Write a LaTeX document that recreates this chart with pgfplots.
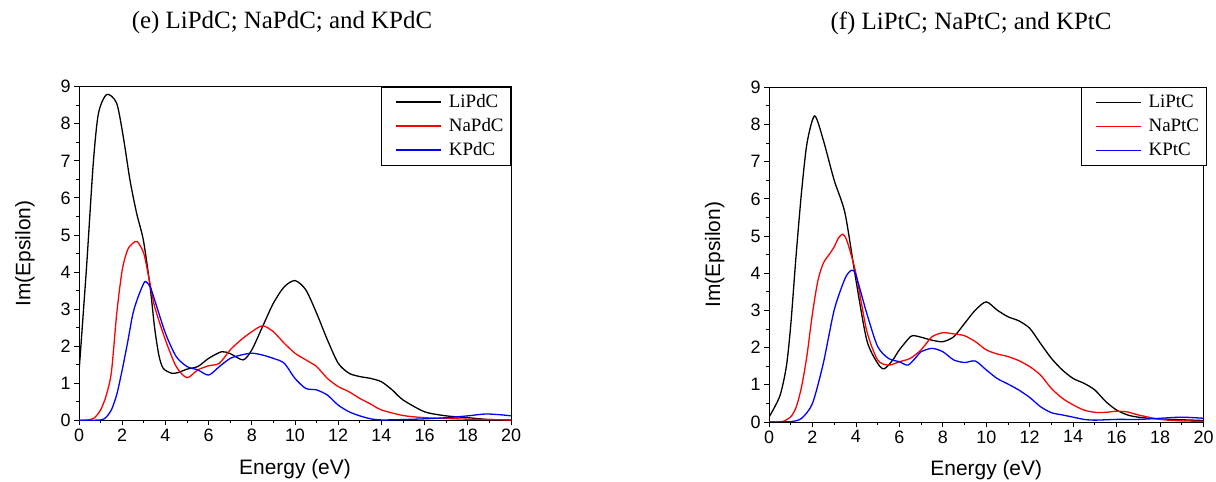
\documentclass[border=0pt]{standalone}
\usepackage{fontspec}
\setmainfont{Liberation Serif}
\setsansfont{Liberation Sans}
\usepackage{pgfplots}
\pgfplotsset{compat=1.18}
\pgfplotsset{
  myax/.style={
    scale only axis,
    xmin=0, xmax=20, ymin=0, ymax=9,
    xtick={0,2,...,20}, ytick={0,1,...,9},
    minor x tick num=1, minor y tick num=1,
    tick pos=left, tick align=outside,
    major tick length=5bp, minor tick length=3bp,
    axis line style={line width=0.9bp},
    every tick/.style={black, line width=0.8bp},
    /pgf/number format/assume math mode=true,
    ticklabel style={font=\sffamily\fontsize{18}{18}\selectfont},
    xlabel={Energy (eV)}, ylabel={Im(Epsilon)},
    every axis x label/.style={at={(axis description cs:0.5,-0.145)}, anchor=center, font=\sffamily\fontsize{21}{21}\selectfont},
    every axis y label/.style={at={(axis description cs:-0.125,0.5)}, rotate=90, anchor=center, font=\sffamily\fontsize{21}{21}\selectfont},
    legend cell align=left,
    legend style={at={(1,1)}, anchor=north east, draw=black, line width=0.8bp,
      font=\fontsize{19}{19}\selectfont,
      nodes={inner sep=1bp, text height=14bp, text depth=4bp},
      row sep=4bp, inner xsep=6bp, inner ysep=5bp},
    legend image code/.code={\path (-8bp,0bp) (51bp,0bp); \draw[#1, line width=1.3bp] (0bp,0bp) -- (45bp,0bp);},
    every axis plot/.append style={line width=1.3bp, smooth, tension=0.45},
  }
}
\begin{document}
\begin{tikzpicture}
\path[use as bounding box] (0,0) rectangle (1216bp,482bp);
\node[font=\fontsize{25}{25}\selectfont] at (282bp,459bp) {(e) LiPdC; NaPdC; and KPdC};
\node[font=\fontsize{25}{25}\selectfont] at (971bp,459bp) {(f) LiPtC; NaPtC; and KPtC};
\begin{axis}[myax, at={(79bp,61.7bp)}, anchor=south west, width=432bp, height=333.6bp]
\addplot[black] coordinates {
(0,1.30)(0.35,4.14)(0.66,6.93)(0.9,8.28)(1.28,8.79)(1.74,8.56)(2.05,7.65)(2.36,6.48)(2.67,5.58)(2.98,4.86)(3.29,3.61)(3.5,2.5)(3.7,1.75)(3.9,1.4)(4.29,1.27)(4.6,1.29)(5,1.38)(5.5,1.45)(6,1.67)(6.6,1.85)(7,1.8)(7.6,1.63)(8,1.9)(8.5,2.53)(9,3.16)(9.5,3.6)(10,3.77)(10.5,3.52)(11,2.89)(11.5,2.17)(12,1.54)(12.5,1.27)(13,1.18)(13.5,1.13)(14,1.04)(14.5,0.82)(15,0.55)(16,0.23)(17,0.12)(18,0.07)(19,0.02)(20,0.01)};
\addlegendentry{LiPdC}
\addplot[red] coordinates {
(0,0)(0.4,0.01)(0.7,0.06)(1,0.28)(1.25,0.65)(1.5,1.3)(1.75,2.9)(2,4.05)(2.25,4.6)(2.5,4.78)(2.7,4.82)(3,4.5)(3.25,3.8)(3.5,3.07)(4,2.17)(4.5,1.45)(5,1.15)(5.5,1.36)(6,1.47)(6.5,1.54)(7,1.9)(7.5,2.17)(8,2.39)(8.5,2.55)(9,2.39)(9.5,2.08)(10,1.81)(10.5,1.63)(11,1.45)(11.5,1.13)(12,0.91)(12.5,0.77)(13,0.59)(13.5,0.44)(14,0.28)(15,0.13)(16,0.07)(17,0.05)(18,0.03)(20,0.01)};
\addlegendentry{NaPdC}
\addplot[blue] coordinates {
(0,0)(1,0.01)(1.25,0.08)(1.5,0.28)(1.75,0.7)(2,1.36)(2.25,2.1)(2.5,2.89)(2.75,3.35)(3,3.7)(3.1,3.74)(3.3,3.6)(3.5,3.25)(4,2.35)(4.5,1.72)(5,1.45)(5.5,1.36)(6,1.22)(6.5,1.45)(7,1.67)(7.5,1.76)(8,1.81)(8.5,1.76)(9,1.67)(9.5,1.54)(10,1.13)(10.5,0.86)(11,0.82)(11.5,0.68)(12,0.41)(12.5,0.23)(13,0.12)(13.5,0.04)(14,0.01)(15,0.02)(16,0.04)(17,0.07)(18,0.12)(18.8,0.17)(19.5,0.15)(20,0.12)};
\addlegendentry{KPdC}
\end{axis}
\begin{axis}[myax, at={(769bp,60bp)}, anchor=south west, width=434.5bp, height=334.7bp,
  legend style={at={(1,1)}, anchor=north east, xshift=3bp}]
\addplot[black] coordinates {
(0,0.13)(0.5,0.7)(0.8,1.5)(1,2.6)(1.25,4.5)(1.5,6.2)(1.75,7.5)(2.1,8.23)(2.5,7.58)(3,6.5)(3.5,5.61)(4,3.82)(4.5,2.2)(5,1.58)(5.3,1.43)(5.7,1.67)(6,1.94)(6.5,2.29)(6.7,2.32)(7,2.28)(7.5,2.2)(8,2.16)(8.5,2.29)(9,2.65)(9.5,3.01)(10,3.23)(10.5,3.01)(11,2.83)(11.5,2.72)(12,2.52)(12.5,2.11)(13,1.71)(13.5,1.4)(14,1.17)(14.5,1.04)(15,0.86)(15.5,0.55)(16,0.32)(16.5,0.19)(17,0.13)(18,0.08)(19,0.06)(20,0.04)};
\addlegendentry{LiPtC}
\addplot[red] coordinates {
(0,0)(0.6,0.01)(1,0.14)(1.25,0.4)(1.5,0.95)(1.75,1.8)(2,2.92)(2.25,3.8)(2.5,4.27)(2.8,4.53)(3,4.71)(3.2,4.95)(3.4,5.05)(3.6,4.85)(4,4.0)(4.5,2.45)(5,1.67)(5.5,1.53)(6,1.62)(6.5,1.71)(7,1.94)(7.5,2.29)(8,2.4)(8.5,2.37)(9,2.32)(9.5,2.16)(10,1.94)(10.5,1.83)(11,1.76)(11.5,1.65)(12,1.49)(12.5,1.26)(13,0.9)(13.5,0.64)(14,0.46)(14.5,0.32)(15,0.26)(15.5,0.26)(16,0.29)(16.5,0.27)(17,0.19)(18,0.07)(19,0.03)(20,0.02)};
\addlegendentry{NaPtC}
\addplot[blue] coordinates {
(0,0)(1,0.01)(1.5,0.1)(2,0.5)(2.5,1.58)(3,3.01)(3.5,3.86)(3.8,4.08)(4,3.95)(4.5,2.92)(5,2.03)(5.5,1.71)(6,1.62)(6.4,1.53)(6.8,1.76)(7,1.89)(7.5,1.98)(8,1.89)(8.5,1.67)(9,1.6)(9.5,1.64)(10,1.4)(10.5,1.17)(11,1.02)(11.5,0.86)(12,0.66)(12.5,0.41)(13,0.25)(13.5,0.19)(14,0.13)(14.5,0.07)(15,0.05)(16,0.07)(17,0.07)(18,0.1)(19,0.13)(20,0.1)};
\addlegendentry{KPtC}
\end{axis}
\end{tikzpicture}
\end{document}
